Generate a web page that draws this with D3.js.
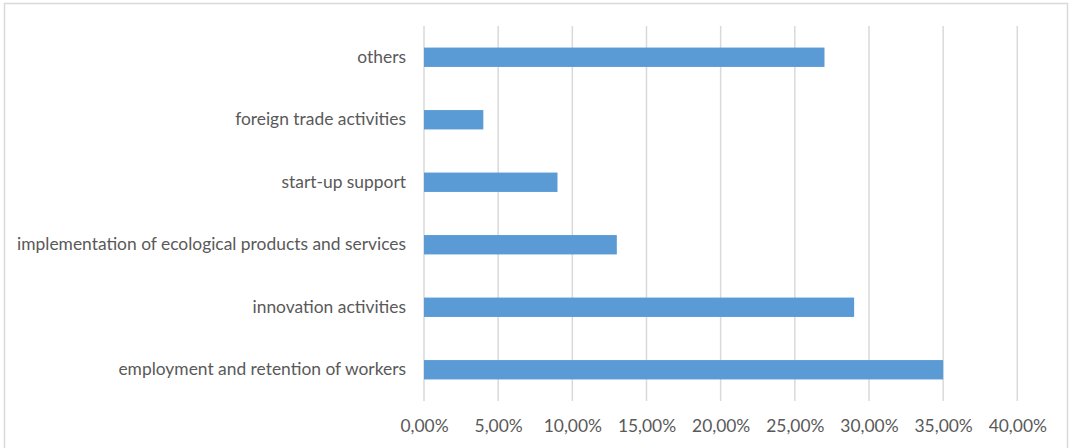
<!DOCTYPE html>
<html><head><meta charset="utf-8">
<script src="https://cdn.jsdelivr.net/npm/d3@7"></script>
<style>body{margin:0;background:#fff}svg{display:block}text{font-family:Lato,"Open Sans",sans-serif;fill:#595959}</style>
</head><body><svg id="c" width="1069" height="448"></svg>
<script>
const categories = ["others","foreign trade activities","start-up support","implementation of ecological products and services","innovation activities","employment and retention of workers"];
const values = [0.27,0.04,0.09,0.13,0.29,0.35];
const tickValues = [0,0.05,0.10,0.15,0.20,0.25,0.30,0.35,0.40];

const svg = d3.select("#c");
svg.append("rect").attr("x",4.5).attr("y",3.5).attr("width",1063).attr("height",460)
  .attr("fill","#fff").attr("stroke","#d9d9d9").attr("stroke-width",1.5);

const x = d3.scaleLinear().domain([0,0.40]).range([424,1017.3]);
const y = d3.scaleBand().domain(categories).range([26,401]).paddingInner(0.69).paddingOuter(0.345);

const fmt = v => (v*100).toFixed(2).replace(".",",")+"%";

svg.append("g").selectAll("line").data(tickValues).join("line")
  .attr("x1",d=>x(d)).attr("x2",d=>x(d)).attr("y1",26).attr("y2",401)
  .attr("stroke","#d9d9d9").attr("stroke-width",1.5);

svg.append("g").selectAll("rect").data(values).join("rect")
  .attr("x",x(0)).attr("y",(d,i)=>y(categories[i]))
  .attr("width",d=>x(d)-x(0)).attr("height",y.bandwidth())
  .attr("fill","#5b9bd5");

const xAxis = d3.axisBottom(x).tickValues(tickValues).tickFormat(fmt).tickSize(0).tickPadding(0);
const gx = svg.append("g").attr("transform","translate(0,420)").call(xAxis);
gx.select(".domain").remove();
gx.selectAll("text").attr("dy","0.71em").style("font-size","17.4px").style("font-family","Lato, sans-serif").attr("fill","#595959");

const yAxis = d3.axisLeft(y).tickSize(0).tickPadding(18);
const gy = svg.append("g").attr("transform","translate(424,0)").call(yAxis);
gy.select(".domain").remove();
gy.selectAll("text").style("font-size","17.4px").style("font-family","Lato, sans-serif").attr("fill","#595959");
</script></body></html>
